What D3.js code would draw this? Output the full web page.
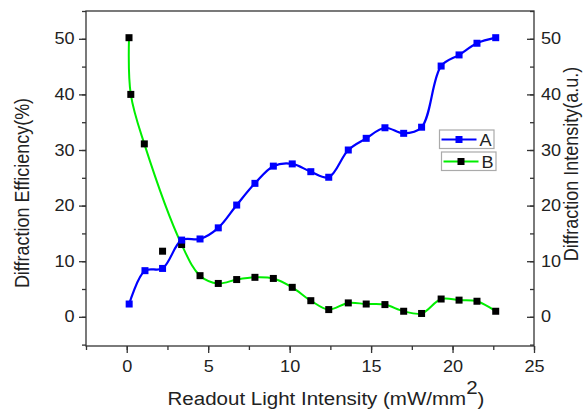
<!DOCTYPE html>
<html><head><meta charset="utf-8">
<script src="https://cdn.jsdelivr.net/npm/d3@7"></script>
<style>body{margin:0;background:#fff}svg{display:block}text{font-family:"Liberation Sans",Arial,sans-serif;fill:#222}</style>
</head><body>
<svg id="c" width="583" height="410"></svg>
<script>
// Data
const seriesA_x = [0.15, 1.12, 2.2, 3.37, 4.5, 5.62, 6.75, 7.87, 9.0, 10.16, 11.3, 12.4, 13.6, 14.7, 15.85, 17.0, 18.1, 19.3, 20.4, 21.5, 22.65];
const seriesA_y = [2.3, 8.3, 8.7, 13.8, 14.0, 16.0, 20.1, 24.0, 27.1, 27.5, 26.1, 25.1, 30.0, 32.1, 34.0, 33.0, 34.1, 45.1, 47.1, 49.2, 50.2];
const seriesB_x = [0.14, 0.25, 1.08, 2.2, 3.37, 4.5, 5.62, 6.75, 7.87, 9.0, 10.16, 11.3, 12.4, 13.6, 14.7, 15.85, 17.0, 18.1, 19.3, 20.4, 21.5, 22.65];
const seriesB_y = [50.2, 40.0, 31.1, 11.8, 13.0, 7.4, 6.0, 6.7, 7.1, 6.9, 5.3, 2.9, 1.3, 2.5, 2.3, 2.2, 1.0, 0.6, 3.2, 3.0, 2.8, 1.0];
// index of B point that the reference's smoothed curve bypasses
const seriesB_curveSkip = [3];
const xTicks = [0, 5, 10, 15, 20, 25];
const yTicks = [0, 10, 20, 30, 40, 50];
const seriesNames = ["A", "B"];

const svg = d3.select("#c");
const L = 86, R = 534, T = 11, B = 346;
const x = d3.scaleLinear().domain([-2.5, 25]).range([L, R]);
const y = d3.scaleLinear().domain([-5.25, 55]).range([B, T]);
const SX = 1.13; // horizontal stretch of the reference's text

const axisColor = "#333";
svg.append("rect").attr("x", L).attr("y", T).attr("width", R - L).attr("height", B - T)
  .attr("fill", "none").attr("stroke", axisColor).attr("stroke-width", 1.3);

function styleAxis(g) {
  g.select(".domain").remove();
  g.selectAll("line").attr("stroke", axisColor).attr("stroke-width", 1.3);
  g.selectAll("text").style("font-size", "16px").attr("fill", "#222");
}
// bottom axis
const xMinor = d3.range(-2.5, 25.01, 2.5);
svg.append("g").attr("transform", `translate(0,${B})`)
  .call(d3.axisBottom(x).tickValues(xMinor).tickSize(4).tickFormat("")).call(styleAxis);
const bx = svg.append("g").attr("transform", `translate(0,${B})`)
  .call(d3.axisBottom(x).tickValues(xTicks).tickSize(7).tickPadding(8).tickFormat(d3.format("d"))).call(styleAxis);
bx.selectAll("text").attr("transform", `scale(${SX},1)`);
// left axis
const yMinor = d3.range(-5, 55.01, 5);
svg.append("g").attr("transform", `translate(${L},0)`)
  .call(d3.axisLeft(y).tickValues(yMinor).tickSize(4).tickFormat("")).call(styleAxis);
const ly = svg.append("g").attr("transform", `translate(${L},0)`)
  .call(d3.axisLeft(y).tickValues(yTicks).tickSize(7).tickFormat(d3.format("d"))).call(styleAxis);
ly.selectAll("text").attr("x", -11.5 / SX).attr("transform", `scale(${SX},1)`);
// right axis (ticks inward)
svg.append("g").attr("transform", `translate(${R},0)`)
  .call(d3.axisLeft(y).tickValues(yMinor).tickSize(4).tickFormat("")).call(styleAxis);
const ry = svg.append("g").attr("transform", `translate(${R},0)`)
  .call(d3.axisLeft(y).tickValues(yTicks).tickSize(7).tickFormat(d3.format("d"))).call(styleAxis);
ry.selectAll("text").attr("text-anchor", "start").attr("x", 7 / SX).attr("transform", `scale(${SX},1)`);

// titles
svg.append("text").attr("transform", `translate(29,193) rotate(-90) scale(1,${SX})`).attr("text-anchor", "middle")
  .style("font-size", "18px").text("Diffraction Efficiency(%)");
svg.append("text").attr("transform", `translate(577.5,164) rotate(-90) scale(1,${SX})`).attr("text-anchor", "middle")
  .style("font-size", "18px").text("Diffraction Intensity(a.u.)");
const xt = svg.append("text").attr("transform", `translate(326,405) scale(1.08,1)`).attr("text-anchor", "middle").style("font-size", "19px");
xt.append("tspan").text("Readout Light Intensity (mW/mm");
xt.append("tspan").attr("dy", -11).text("2");
xt.append("tspan").attr("dy", 11).text(")");

const curve = d3.curveCatmullRom.alpha(0.5);
const A = seriesA_x.map((v, i) => [v, seriesA_y[i]]);
const Bd = seriesB_x.map((v, i) => [v, seriesB_y[i]]);
const line = d3.line().x(d => x(d[0])).y(d => y(d[1])).curve(curve);

svg.append("path").datum(Bd.filter((d, i) => !seriesB_curveSkip.includes(i)))
  .attr("d", line).attr("fill", "none").attr("stroke", "#00ee00").attr("stroke-width", 2);
svg.append("path").datum(A).attr("d", line).attr("fill", "none").attr("stroke", "#0000ff").attr("stroke-width", 2.2);

const ms = 7;
svg.append("g").selectAll("rect").data(Bd).join("rect")
  .attr("x", d => x(d[0]) - ms / 2).attr("y", d => y(d[1]) - ms / 2)
  .attr("width", ms).attr("height", ms).attr("fill", "#000");
svg.append("g").selectAll("rect").data(A).join("rect")
  .attr("x", d => x(d[0]) - ms / 2).attr("y", d => y(d[1]) - ms / 2)
  .attr("width", ms).attr("height", ms).attr("fill", "#0000ff");

// legend (two separate boxes as in reference)
const legendBoxes = [
  {name: seriesNames[0], x: 439.5, y: 130, line: "#0000ff", mark: "#0000ff"},
  {name: seriesNames[1], x: 441.5, y: 152, line: "#00ee00", mark: "#000"}
];
legendBoxes.forEach(lb => {
  const g = svg.append("g").attr("transform", `translate(${lb.x},${lb.y})`);
  g.append("rect").attr("width", 54.5).attr("height", 18.5).attr("fill", "#fff")
    .attr("stroke", "#aaa").attr("stroke-width", 1.2);
  g.append("line").attr("x1", 2).attr("x2", 37).attr("y1", 9.5).attr("y2", 9.5)
    .attr("stroke", lb.line).attr("stroke-width", 2);
  g.append("rect").attr("x", 19.5 - 3.5).attr("y", 6).attr("width", 7).attr("height", 7).attr("fill", lb.mark);
  g.append("text").attr("transform", `translate(40,15.5) scale(${SX},1)`).style("font-size", "16px").text(lb.name);
});
</script>
</body></html>
